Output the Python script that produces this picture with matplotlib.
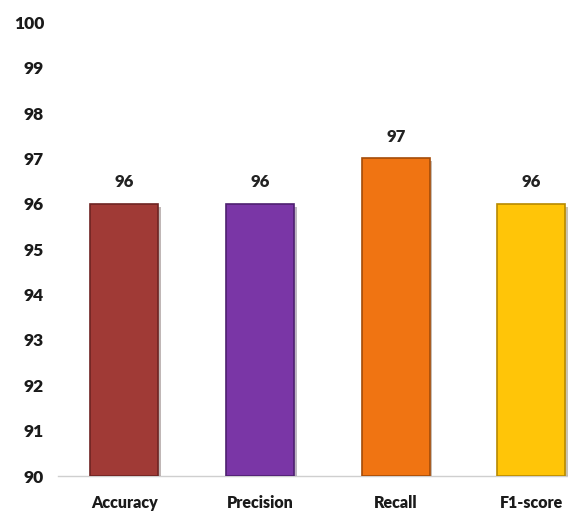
import matplotlib
matplotlib.use("Agg")
import matplotlib.pyplot as plt
import matplotlib.patheffects as pe

metrics = ["Accuracy", "Precision", "Recall", "F1-score"]
scores = [96, 96, 97, 96]
colors = ["#A03A36", "#7A36A6", "#F07412", "#FFC508"]
edges = ["#6E2422", "#4E2070", "#A44C08", "#B88A00"]

plt.rcParams["font.family"] = ["Lato", "DejaVu Sans"]

fig = plt.figure(figsize=(5.68, 5.15), dpi=100)
ax = fig.add_axes([0.102, 0.0757, 0.898, 0.881])

x = range(len(metrics))
bars = ax.bar(x, [s - 90 for s in scores], bottom=90, width=0.5,
              color=colors, edgecolor=edges, linewidth=1.2, zorder=3)
for b in bars:
    b.set_path_effects([pe.SimplePatchShadow(offset=(2, -2), alpha=0.3),
                        pe.Normal()])

for xi, s in zip(x, scores):
    ax.text(xi, s + 0.3, f"{s}", ha="center", va="bottom",
            fontsize=12, fontweight="heavy", color="#222222")

ax.set_ylim(90, 100)
ax.set_xlim(-0.49, 3.27)
ax.set_yticks(range(90, 101))
ax.set_xticks(list(x))
ax.set_xticklabels(metrics)
ax.tick_params(axis="x", length=0, labelsize=11.5, pad=14)
ax.tick_params(axis="y", length=0, labelsize=12.5, pad=10)
for lbl in ax.get_xticklabels() + ax.get_yticklabels():
    lbl.set_fontweight("heavy")
    lbl.set_color("#1a1a1a")

for side in ("top", "right", "left"):
    ax.spines[side].set_visible(False)
ax.spines["bottom"].set_color("#cfcfcf")
ax.spines["bottom"].set_linewidth(1.0)

fig.savefig("out.png", dpi=100)
